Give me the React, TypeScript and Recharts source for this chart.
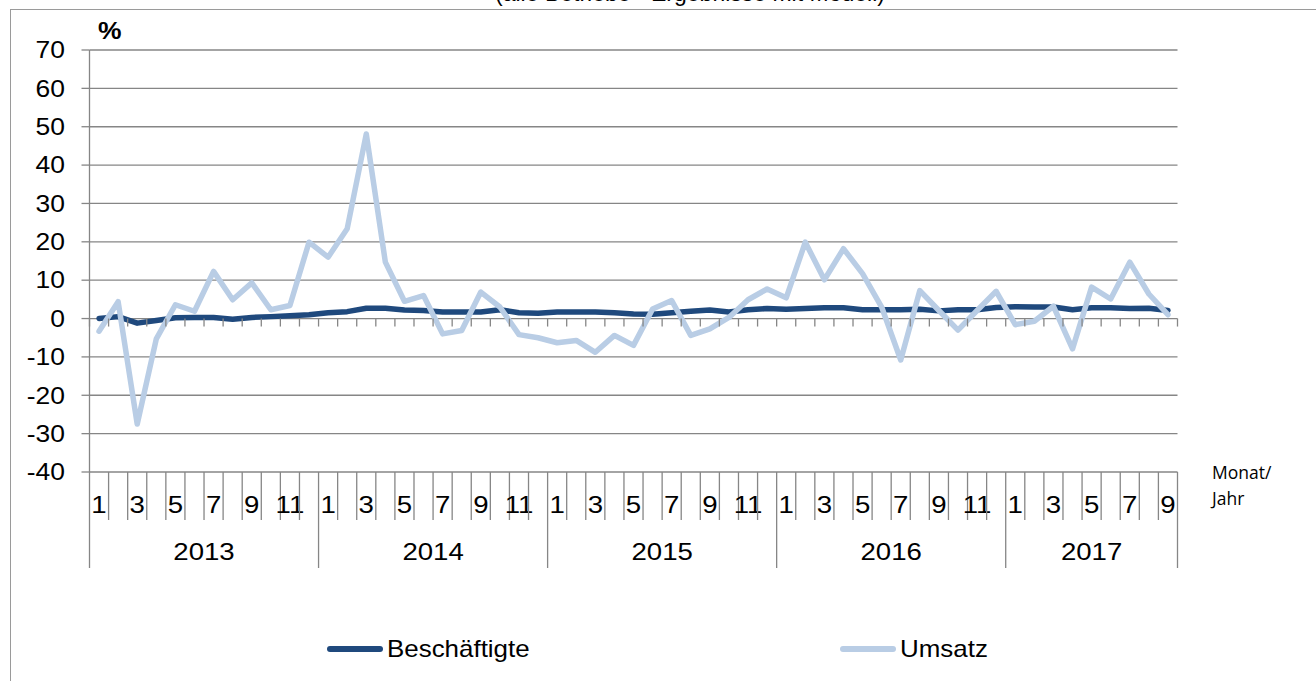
import { LineChart, Line, XAxis, YAxis, CartesianGrid, Legend } from 'recharts'

const years = ['2013', '2014', '2015', '2016', '2017']
const monthsPerYear = [12, 12, 12, 12, 9]
const yTicks = [-40, -30, -20, -10, 0, 10, 20, 30, 40, 50, 60, 70]

// Beschäftigte, % change vs. previous year
const beschaeftigte = [
  0.0, 0.5, -1.2, -0.5, 0.2, 0.3, 0.3, -0.2, 0.3, 0.5, 0.7, 1.0,
  1.5, 1.8, 2.7, 2.7, 2.2, 2.1, 1.7, 1.7, 1.7, 2.3, 1.5, 1.4,
  1.7, 1.7, 1.7, 1.5, 1.2, 1.1, 1.5, 1.9, 2.2, 1.7, 2.3, 2.6,
  2.4, 2.6, 2.8, 2.8, 2.3, 2.3, 2.3, 2.4, 2.0, 2.3, 2.3, 2.9,
  3.1, 3.0, 3.0, 2.3, 2.8, 2.8, 2.6, 2.7, 2.1,
]

// Umsatz, % change vs. previous year
const umsatz = [
  -3.3, 4.4, -27.5, -5.3, 3.6, 1.9, 12.3, 4.9, 9.3, 2.3, 3.4, 19.9,
  16.0, 23.4, 48.1, 14.7, 4.5, 6.0, -4.0, -3.1, 6.9, 3.0, -4.2, -5.0,
  -6.3, -5.7, -8.8, -4.4, -7.0, 2.5, 4.7, -4.4, -2.7, 0.3, 4.9, 7.7,
  5.4, 19.9, 10.1, 18.2, 11.7, 3.0, -10.8, 7.3, 2.1, -3.0, 2.1, 7.1,
  -1.6, -0.7, 3.2, -7.9, 8.2, 5.1, 14.7, 6.4, 1.0,
]

const months: { key: string; year: string; month: number; first: boolean; yearLen: number }[] = []
years.forEach((y, yi) => {
  for (let m = 1; m <= monthsPerYear[yi]; m++) {
    months.push({ key: `${y}-${m}`, year: y, month: m, first: m === 1, yearLen: monthsPerYear[yi] })
  }
})

const data = months.map((m, i) => ({
  key: m.key,
  beschaeftigte: beschaeftigte[i],
  umsatz: umsatz[i],
}))

const W = 1316
const H = 681
const PLOT_LEFT = 89.5
const PLOT_RIGHT = 1177.5
const PLOT_TOP = 50
const PLOT_BOTTOM = 472
const Y_MIN = -40
const Y_MAX = 70
const BAND = (PLOT_RIGHT - PLOT_LEFT) / months.length
const ZERO_Y = PLOT_TOP + ((Y_MAX - 0) / (Y_MAX - Y_MIN)) * (PLOT_BOTTOM - PLOT_TOP)

const GRID = '#868686'
const DARK = '#1F497D'
const LIGHT = '#B9CDE5'
const FONT = '"Liberation Sans", Arial, sans-serif'
const SX = 1.15

function YTick(props: any) {
  const { y, payload } = props
  return (
    <text
      transform={`translate(65,${y + 8.3}) scale(${SX},1)`}
      textAnchor="end"
      fontSize={23}
      fontFamily={FONT}
      fill="#000"
    >
      {payload.value}
    </text>
  )
}

function XTick(props: any) {
  const { x, y, index } = props
  const m = months[index]
  if (!m) return null
  const left = x - BAND / 2
  const isLast = index === months.length - 1
  return (
    <g>
      <line x1={left} x2={left} y1={ZERO_Y} y2={ZERO_Y + 8} stroke={GRID} strokeWidth={1.3} />
      {isLast && (
        <line x1={left + BAND} x2={left + BAND} y1={ZERO_Y} y2={ZERO_Y + 8} stroke={GRID} strokeWidth={1.3} />
      )}
      <line x1={left} x2={left} y1={y} y2={m.first ? y + 96 : y + 48} stroke={GRID} strokeWidth={1.3} />
      {isLast && (
        <line x1={left + BAND} x2={left + BAND} y1={y} y2={y + 96} stroke={GRID} strokeWidth={1.3} />
      )}
      {m.month % 2 === 1 && (
        <text
          transform={`translate(${x},${y + 41}) scale(${SX},1)`}
          textAnchor="middle"
          fontSize={24}
          fontFamily={FONT}
          fill="#000"
        >
          {m.month}
        </text>
      )}
      {m.first && (
        <text
          transform={`translate(${left + (m.yearLen * BAND) / 2},${y + 88}) scale(${SX},1)`}
          textAnchor="middle"
          fontSize={24}
          fontFamily={FONT}
          fill="#000"
        >
          {m.year}
        </text>
      )}
    </g>
  )
}

function LegendContent() {
  const items = [
    { name: 'Beschäftigte', color: DARK, x: 327 },
    { name: 'Umsatz', color: LIGHT, x: 840 },
  ]
  return (
    <div style={{ position: 'relative', width: W, height: 50 }}>
      {items.map((it) => (
        <div key={it.name}>
          <div
            style={{
              position: 'absolute',
              left: it.x,
              top: 23,
              width: 56,
              height: 5.5,
              borderRadius: 3,
              background: it.color,
            }}
          />
          <div
            style={{
              position: 'absolute',
              left: it.x + 60,
              top: 11,
              fontSize: 24,
              fontFamily: FONT,
              color: '#000',
              lineHeight: '30px',
              whiteSpace: 'nowrap',
              transform: 'scale(1.08,1)',
              transformOrigin: 'left center',
            }}
          >
            {it.name}
          </div>
        </div>
      ))}
    </div>
  )
}

export default function App() {
  return (
    <div
      style={{
        position: 'absolute',
        left: 0,
        top: 0,
        width: W,
        height: H,
        overflow: 'hidden',
        background: '#fff',
      }}
    >
      <div
        style={{
          position: 'absolute',
          left: 10,
          top: 9,
          width: 1400,
          height: 800,
          border: '1.3px solid #9a9a9a',
        }}
      />
      <div
        style={{
          position: 'absolute',
          left: 0,
          top: -20,
          width: 1380,
          textAlign: 'center',
          fontSize: 23,
          fontFamily: FONT,
          lineHeight: '26px',
          whiteSpace: 'nowrap',
        }}
      >
        (alle Betriebe - Ergebnisse mit Modell)
      </div>
      <svg style={{ position: 'absolute', left: 0, top: 0 }} width={W} height={H}>
        <text
          transform={`translate(98,39) scale(${SX},1)`}
          fontSize={23}
          fontWeight="bold"
          fontFamily={FONT}
          fill="#000"
        >
          %
        </text>
        <text x={1212} y={479} fontSize={17.5} fontFamily='"Open Sans", sans-serif' fill="#000">
          Monat/
        </text>
        <text x={1212} y={505} fontSize={17.5} fontFamily='"Open Sans", sans-serif' fill="#000">
          Jahr
        </text>
      </svg>
      <div style={{ position: 'absolute', left: 0, top: 0 }}>
        <LineChart
          width={W}
          height={H}
          data={data}
          margin={{ top: PLOT_TOP, right: W - PLOT_RIGHT, bottom: H - PLOT_BOTTOM - 100, left: 0 }}
        >
          <CartesianGrid vertical={false} stroke={GRID} strokeWidth={1.3} />
          <XAxis
            dataKey="key"
            scale="band"
            interval={0}
            height={100}
            axisLine={false}
            tickLine={false}
            tickSize={0}
            tickMargin={0}
            tick={<XTick />}
          />
          <YAxis
            width={PLOT_LEFT}
            domain={[Y_MIN, Y_MAX]}
            ticks={yTicks}
            interval={0}
            allowDataOverflow
            stroke={GRID}
            strokeWidth={1.3}
            tickSize={8}
            tick={<YTick />}
          />
          <Legend
            layout="horizontal"
            verticalAlign="middle"
            align="center"
            wrapperStyle={{ left: 0, top: 623, width: W, height: 50 }}
            content={<LegendContent />}
          />
          <Line
            type="linear"
            dataKey="beschaeftigte"
            name="Beschäftigte"
            stroke={DARK}
            strokeWidth={5.5}
            strokeLinecap="round"
            strokeLinejoin="round"
            dot={false}
            activeDot={false}
            isAnimationActive={false}
          />
          <Line
            type="linear"
            dataKey="umsatz"
            name="Umsatz"
            stroke={LIGHT}
            strokeWidth={5.5}
            strokeLinecap="round"
            strokeLinejoin="round"
            dot={false}
            activeDot={false}
            isAnimationActive={false}
          />
        </LineChart>
      </div>
    </div>
  )
}
